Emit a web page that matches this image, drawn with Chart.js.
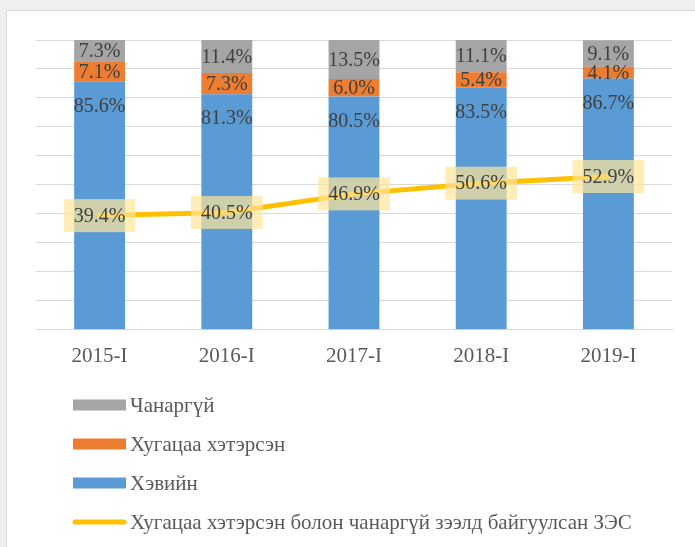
<!DOCTYPE html>
<html>
<head>
<meta charset="utf-8">
<script src="https://cdn.jsdelivr.net/npm/chart.js@4.4.0/dist/chart.umd.min.js"></script>
<style>
  html, body { margin: 0; padding: 0; background: #efefef; overflow: hidden; }
  #card { position: absolute; left: 6px; top: 10px; width: 700px; height: 550px; background: #fff; border: 1px solid #d9d9d9; }
  #chart { position: absolute; left: 0; top: 0; }
</style>
</head>
<body>
<div id="card"><canvas id="chart" width="688" height="536"></canvas></div>
<script>
// quarters
const categories = ['2015-I', '2016-I', '2017-I', '2018-I', '2019-I'];
// share of loans, %
const normalLoans = [85.6, 81.3, 80.5, 83.5, 86.7];    // Хэвийн
const overdueLoans = [7.1, 7.3, 6.0, 5.4, 4.1];        // Хугацаа хэтэрсэн
const badLoans = [7.3, 11.4, 13.5, 11.1, 9.1];          // Чанаргүй
const provisionShare = [39.4, 40.5, 46.9, 50.6, 52.9];  // ЗЭС

const FONT = "'Liberation Serif', 'Times New Roman', serif";

// value labels: bars + line (line labels get a yellow box)
const valueLabels = {
    id: 'valueLabels',
    afterDatasetsDraw(chart) {
        const ctx = chart.ctx;
        ctx.save();
        ctx.font = '20px ' + FONT;
        ctx.textAlign = 'center';
        ctx.textBaseline = 'middle';
        chart.data.datasets.forEach((ds, i) => {
            const meta = chart.getDatasetMeta(i);
            meta.data.forEach((el, j) => {
                const txt = ds.data[j].toFixed(1) + '%';
                if (ds.type === 'line') {
                    const w = ctx.measureText(txt).width + 20;
                    const h = 33;
                    ctx.fillStyle = 'rgba(255,230,153,0.7)';
                    ctx.fillRect(el.x - w / 2, el.y - h / 2, w, h);
                    ctx.fillStyle = '#404040';
                    ctx.fillText(txt, el.x, el.y + 1);
                } else {
                    let y = (el.y + el.base) / 2;
                    if (ds.insideEnd) y = el.y + 24;
                    ctx.fillStyle = '#404040';
                    ctx.fillText(txt, el.x, y + 1);
                }
            });
        });
        ctx.restore();
    }
};

// vertical legend under the axis
const stackLegend = {
    id: 'stackLegend',
    afterDraw(chart) {
        const ctx = chart.ctx;
        const ds = chart.data.datasets;
        const order = [3, 2, 1, 0];
        ctx.save();
        ctx.font = '21px ' + FONT;
        ctx.textBaseline = 'middle';
        order.forEach((k, r) => {
            const y = 394 + r * 39;
            if (ds[k].type === 'line') {
                ctx.strokeStyle = ds[k].borderColor;
                ctx.lineWidth = 5;
                ctx.lineCap = 'round';
                ctx.beginPath();
                ctx.moveTo(68, y);
                ctx.lineTo(117, y);
                ctx.stroke();
            } else {
                ctx.fillStyle = ds[k].backgroundColor;
                ctx.fillRect(66, y - 5.5, 53, 11);
            }
            ctx.fillStyle = '#595959';
            ctx.fillText(ds[k].label, 123, y + 1);
        });
        ctx.restore();
    }
};

new Chart(document.getElementById('chart'), {
    data: {
        labels: categories,
        datasets: [{
            type: 'line',
            label: 'Хугацаа хэтэрсэн болон чанаргүй зээлд байгуулсан ЗЭС',
            data: provisionShare,
            borderColor: '#FFC000',
            borderWidth: 5,
            pointRadius: 0,
            borderCapStyle: 'round',
            borderJoinStyle: 'round',
            order: 0
        }, {
            type: 'bar',
            label: 'Хэвийн',
            data: normalLoans,
            backgroundColor: '#5B9BD5',
            insideEnd: true,
            order: 1
        }, {
            type: 'bar',
            label: 'Хугацаа хэтэрсэн',
            data: overdueLoans,
            backgroundColor: '#ED7D31',
            order: 1
        }, {
            type: 'bar',
            label: 'Чанаргүй',
            data: badLoans,
            backgroundColor: '#A5A5A5',
            order: 1
        }]
    },
    options: {
        responsive: false,
        animation: false,
        layout: { padding: { left: 29, right: 23, top: 29, bottom: 172 } },
        datasets: { bar: { categoryPercentage: 1, barPercentage: 0.4 } },
        plugins: { legend: { display: false }, tooltip: { enabled: false } },
        scales: {
            x: {
                stacked: true,
                grid: { display: false },
                border: { color: '#d9d9d9' },
                ticks: { color: '#595959', padding: 6, font: { family: FONT, size: 21 } }
            },
            y: {
                stacked: true,
                min: 0,
                max: 100,
                ticks: { display: false, stepSize: 10 },
                grid: { color: '#d9d9d9', drawTicks: false },
                border: { display: false }
            }
        }
    },
    plugins: [valueLabels, stackLegend]
});
</script>
</body>
</html>
